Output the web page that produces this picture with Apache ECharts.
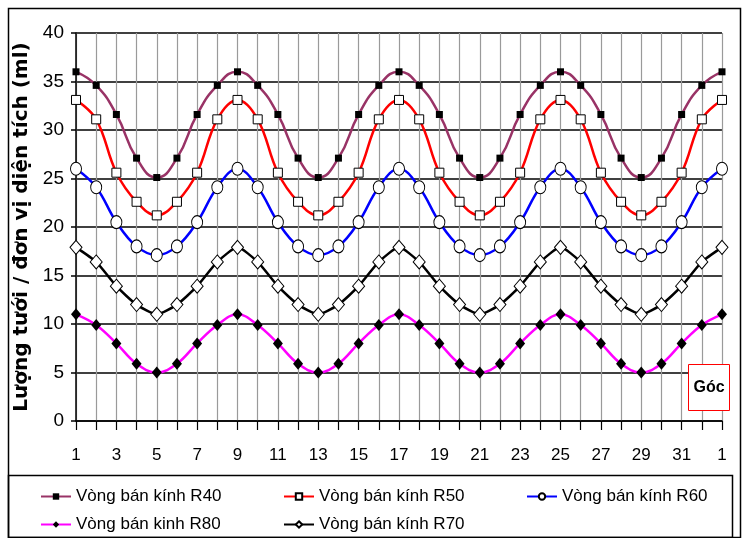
<!DOCTYPE html>
<html><head><meta charset="utf-8">
<script src="https://cdn.jsdelivr.net/npm/echarts@6/dist/echarts.min.js"></script>
<style>html,body{margin:0;padding:0;background:#fff}#c{width:744px;height:538px}</style>
</head><body><div id="c"></div>
<script>
const angleLabels = ['1','2','3','4','5','6','7','8','9','10','11','12','13','14','15','16','17','18','19','20','21','22','23','24','25','26','27','28','29','30','31','32','1'];
const r40 = [36.0,34.6,31.6,27.1,25.1,27.1,31.6,34.6, 36.0,34.6,31.6,27.1,25.1,27.1,31.6,34.6, 36.0,34.6,31.6,27.1,25.1,27.1,31.6,34.6, 36.0,34.6,31.6,27.1,25.1,27.1,31.6,34.6, 36.0];
const r50 = [33.1,31.1,25.6,22.6,21.2,22.6,25.6,31.1, 33.1,31.1,25.6,22.6,21.2,22.6,25.6,31.1, 33.1,31.1,25.6,22.6,21.2,22.6,25.6,31.1, 33.1,31.1,25.6,22.6,21.2,22.6,25.6,31.1, 33.1];
const r60 = [26.0,24.1,20.5,18.0,17.1,18.0,20.5,24.1, 26.0,24.1,20.5,18.0,17.1,18.0,20.5,24.1, 26.0,24.1,20.5,18.0,17.1,18.0,20.5,24.1, 26.0,24.1,20.5,18.0,17.1,18.0,20.5,24.1, 26.0];
const r80 = [11.0,9.9,8.0,5.9,5.0,5.9,8.0,9.9, 11.0,9.9,8.0,5.9,5.0,5.9,8.0,9.9, 11.0,9.9,8.0,5.9,5.0,5.9,8.0,9.9, 11.0,9.9,8.0,5.9,5.0,5.9,8.0,9.9, 11.0];
const r70 = [17.9,16.4,13.9,12.0,11.0,12.0,13.9,16.4, 17.9,16.4,13.9,12.0,11.0,12.0,13.9,16.4, 17.9,16.4,13.9,12.0,11.0,12.0,13.9,16.4, 17.9,16.4,13.9,12.0,11.0,12.0,13.9,16.4, 17.9];
const names = ['Vòng bán kính R40','Vòng bán kính R50','Vòng bán kính R60','Vòng bán kinh R80','Vòng bán kính R70'];
const yTicks = {min:0, max:40, interval:5};

const FONT = 'Liberation Sans, Arial, sans-serif';
const chart = echarts.init(document.getElementById('c'), null, {renderer:'canvas'});
const idx = angleLabels.map((_, i) => i);
function ser(name, data, color, symbol, size, fill, smooth, bw) {
  return {name, type:'line', data, smooth, symbol, symbolSize:size, showAllSymbol:true,
    lineStyle:{color, width:2.5}, itemStyle:{color:fill, borderColor:'#000', borderWidth:bw},
    emphasis:{disabled:true}, z: 3};
}
const legendBase = {orient:'vertical', itemWidth:30, itemHeight:8, itemGap:11, padding:0,
  textStyle:{fontFamily:FONT, fontSize:17, color:'#000'}, selectedMode:false, top:488};
chart.setOption({
  animation:false,
  grid:{left:76, right:22, top:33, bottom:117, containLabel:false},
  xAxis:{type:'category', data:idx, boundaryGap:false,
    axisLine:{lineStyle:{color:'#000', width:1.5}},
    axisTick:{show:true, interval:0, length:9, lineStyle:{color:'#000', width:1.2}},
    axisLabel:{interval:1, margin:26, fontFamily:FONT, fontSize:17, color:'#000', formatter:(v, i) => angleLabels[i]},
    splitLine:{show:true, interval:0, lineStyle:{color:'#9a9a9a', width:1.2}}},
  yAxis:{type:'value', min:yTicks.min, max:yTicks.max, interval:yTicks.interval,
    name:'Lượng tưới / đơn vị diện tích (ml)', nameLocation:'middle', nameGap:40, nameRotate:90,
    nameTextStyle:{fontFamily:'DejaVu Sans, sans-serif', fontSize:20, fontWeight:'bold', color:'#000'},
    axisLine:{show:true, lineStyle:{color:'#000', width:1.5}},
    axisTick:{show:true, length:5, lineStyle:{color:'#000', width:1.5}},
    axisLabel:{margin:12, fontFamily:FONT, fontSize:19, color:'#000'},
    splitLine:{show:true, lineStyle:{color:'#000', width:1.5}}},
  legend:[
    Object.assign({}, legendBase, {left:40, data:[names[0], names[3]]}),
    Object.assign({}, legendBase, {left:283, data:[names[1], names[4]]}),
    Object.assign({}, legendBase, {left:526, data:[names[2]]})
  ],
  series:[
    ser(names[0], r40, '#993366', 'rect', 7, '#000', 0.5, 0),
    ser(names[1], r50, '#ff0000', 'rect', 9, '#fff', 0.4, 1),
    ser(names[2], r60, '#0000ff', 'circle', [11,13], '#fff', 0.4, 1),
    ser(names[3], r80, '#ff00ff', 'diamond', [10,12], '#000', 0.4, 0),
    ser(names[4], r70, '#000000', 'diamond', [12,14], '#fff', 0.2, 1)
  ],
  graphic:[
    {type:'rect', shape:{x:8.5, y:8.5, width:732, height:529}, style:{fill:'none', stroke:'#000', lineWidth:1.5}, z:0},
    {type:'rect', shape:{x:8.5, y:475.5, width:724, height:62}, style:{fill:'none', stroke:'#000', lineWidth:1.5}, z:0},
    {type:'rect', shape:{x:688.5, y:364.5, width:41, height:46}, style:{fill:'#fff', stroke:'#ff0000', lineWidth:1}, z:10},
    {type:'text', x:709, y:388, style:{text:'Góc', fontFamily:FONT, fontSize:16, fontWeight:'bold', fill:'#000', align:'center', verticalAlign:'middle'}, z:11}
  ]
});
</script></body></html>
